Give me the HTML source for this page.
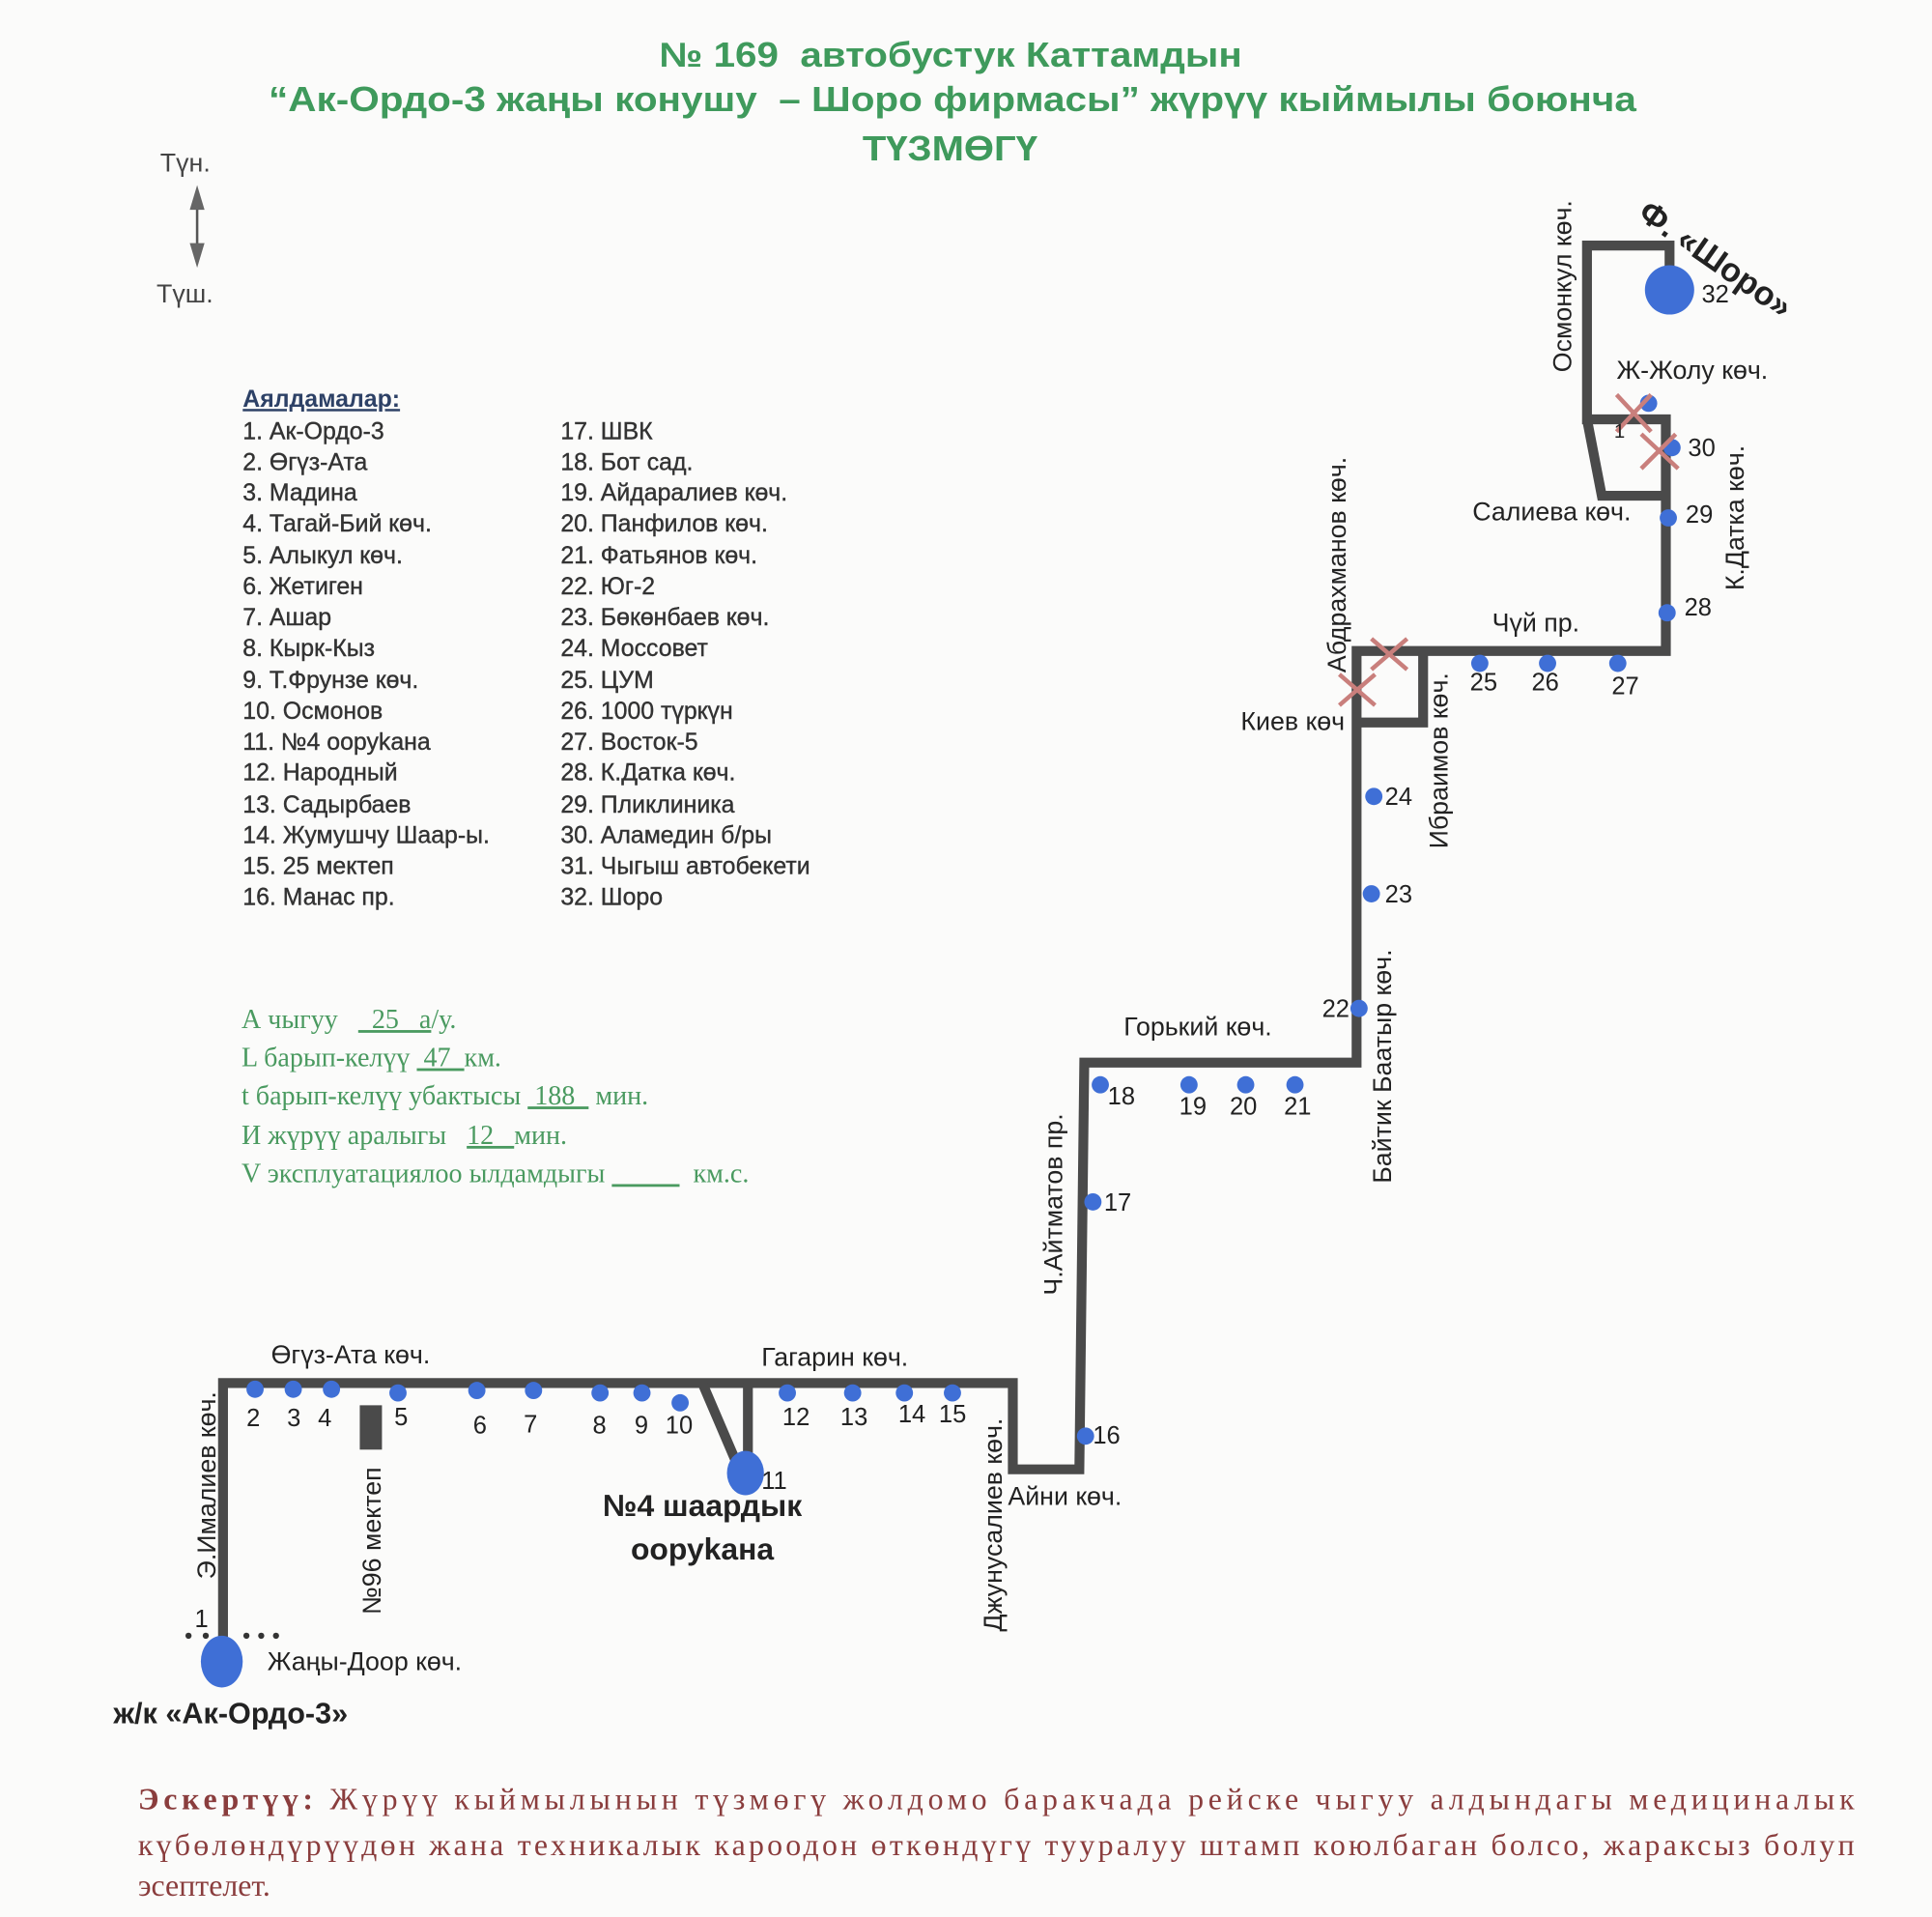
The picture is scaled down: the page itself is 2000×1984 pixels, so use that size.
<!DOCTYPE html>
<html><head><meta charset="utf-8"><style>
html,body{margin:0;padding:0;background:#fbfbfa;}
svg{display:block;}
</style></head><body>
<svg width="2000" height="1984" viewBox="0 0 1568 1555" xmlns="http://www.w3.org/2000/svg" font-family="Liberation Sans, DejaVu Sans, sans-serif">
<rect width="1568" height="1555" fill="#fbfbfa"/>
<g fill="#3f9a5c" font-weight="bold" font-size="28">
<text x="535" y="54" textLength="473" lengthAdjust="spacingAndGlyphs">№ 169&#160; автобустук Каттамдын</text>
<text x="218" y="90" textLength="1110" lengthAdjust="spacingAndGlyphs">“Ак-Ордо-3 жаңы конушу&#160; – Шоро фирмасы” жүрүү кыймылы боюнча</text>
<text x="700" y="130" textLength="142" lengthAdjust="spacingAndGlyphs">ТҮЗМӨГҮ</text>
</g>
<g fill="#444" font-size="21">
<text x="130" y="139">Түн.</text>
<text x="127" y="245">Түш.</text>
</g>
<line x1="160" y1="160" x2="160" y2="207" stroke="#555" stroke-width="2"/>
<polygon points="160,150 154,170 166,170" fill="#666"/>
<polygon points="160,217 154,197 166,197" fill="#666"/>
<g font-size="19.5" fill="#333" stroke="#333" stroke-width="0.3">
<text x="197" y="330" font-weight="bold" fill="#2d4166" stroke="none" text-decoration="underline">Аялдамалар:</text>
<text x="197" y="356">1. Ак-Ордо-3</text>
<text x="197" y="381">2. Өгүз-Ата</text>
<text x="197" y="406">3. Мадина</text>
<text x="197" y="431">4. Тагай-Бий көч.</text>
<text x="197" y="457">5. Алыкул көч.</text>
<text x="197" y="482">6. Жетиген</text>
<text x="197" y="507">7. Ашар</text>
<text x="197" y="532">8. Кырк-Кыз</text>
<text x="197" y="558">9. Т.Фрунзе көч.</text>
<text x="197" y="583">10. Осмонов</text>
<text x="197" y="608">11. №4 ооруkана</text>
<text x="197" y="633">12. Народный</text>
<text x="197" y="659">13. Садырбаев</text>
<text x="197" y="684">14. Жумушчу Шаар-ы.</text>
<text x="197" y="709">15. 25 мектеп</text>
<text x="197" y="734">16. Манас пр.</text>
<text x="455" y="356">17. ШВК</text>
<text x="455" y="381">18. Бот сад.</text>
<text x="455" y="406">19. Айдаралиев көч.</text>
<text x="455" y="431">20. Панфилов көч.</text>
<text x="455" y="457">21. Фатьянов көч.</text>
<text x="455" y="482">22. Юг-2</text>
<text x="455" y="507">23. Бөкөнбаев көч.</text>
<text x="455" y="532">24. Моссовет</text>
<text x="455" y="558">25. ЦУМ</text>
<text x="455" y="583">26. 1000 түркүн</text>
<text x="455" y="608">27. Восток-5</text>
<text x="455" y="633">28. К.Датка көч.</text>
<text x="455" y="659">29. Пликлиника</text>
<text x="455" y="684">30. Аламедин б/ры</text>
<text x="455" y="709">31. Чыгыш автобекети</text>
<text x="455" y="734">32. Шоро</text>
</g>
<g font-family="Liberation Serif, DejaVu Serif, serif" font-size="22" fill="#4a9a60">
<text x="196" y="834">А чыгуу&#160;&#160; <tspan text-decoration="underline">&#160;&#160;25&#160;&#160;&#160;а</tspan>/у.</text>
<text x="196" y="865">L барып-келүү&#160;<tspan text-decoration="underline">&#160;47&#160;&#160;</tspan>км.</text>
<text x="196" y="896">t барып-келүү убактысы&#160;<tspan text-decoration="underline">&#160;188&#160;&#160;</tspan>&#160;мин.</text>
<text x="196" y="928">И жүрүү аралыгы&#160;&#160;&#160;<tspan text-decoration="underline">12&#160;&#160;&#160;</tspan>мин.</text>
<text x="196" y="959">V эксплуатациялоо ылдамдыгы&#160;<tspan text-decoration="underline">&#160;&#160;&#160;&#160;&#160;&#160;&#160;&#160;&#160;&#160;</tspan>&#160;&#160;км.с.</text>
</g>
<g fill="none" stroke="#4a4a4a" stroke-width="8" stroke-linejoin="miter">
<path d="M181,1330 V1122 H822 V1192 H876 L880,862 H1101 V528 H1352 V340 H1288 V199 H1355 V232"/>
<path d="M1288,340 L1300,402 H1352"/>
<path d="M1101,586 H1155 V528"/>
<path d="M570,1122 L600,1192 M607,1122 V1192"/>
</g>
<rect x="292" y="1140" width="18" height="36" fill="#4a4a4a"/>
<g fill="#3f6fd6">
<ellipse cx="180" cy="1348" rx="17" ry="21"/>
<ellipse cx="605" cy="1195" rx="15" ry="18"/>
<circle cx="1355" cy="235" r="20"/>
<circle cx="207" cy="1127" r="7"/><circle cx="238" cy="1127" r="7"/><circle cx="269" cy="1127" r="7"/>
<circle cx="323" cy="1130" r="7"/><circle cx="387" cy="1128" r="7"/><circle cx="433" cy="1128" r="7"/>
<circle cx="487" cy="1130" r="7"/><circle cx="521" cy="1130" r="7"/><circle cx="552" cy="1138" r="7"/>
<circle cx="639" cy="1130" r="7"/><circle cx="692" cy="1130" r="7"/><circle cx="734" cy="1130" r="7"/><circle cx="773" cy="1130" r="7"/>
<circle cx="881" cy="1165" r="7"/><circle cx="887" cy="975" r="7"/><circle cx="893" cy="880" r="7"/>
<circle cx="965" cy="880" r="7"/><circle cx="1011" cy="880" r="7"/><circle cx="1051" cy="880" r="7"/>
<circle cx="1103" cy="818" r="7"/><circle cx="1113" cy="725" r="7"/><circle cx="1115" cy="646" r="7"/>
<circle cx="1201" cy="538" r="7"/><circle cx="1256" cy="538" r="7"/><circle cx="1313" cy="538" r="7"/>
<circle cx="1353" cy="497" r="7"/><circle cx="1354" cy="420" r="7"/><circle cx="1357" cy="363" r="7"/><circle cx="1338" cy="327" r="7"/>
</g>
<g fill="#333">
<circle cx="153" cy="1327" r="2.5"/><circle cx="167" cy="1327" r="2.5"/><circle cx="200" cy="1327" r="2.5"/><circle cx="212" cy="1327" r="2.5"/><circle cx="224" cy="1327" r="2.5"/>
</g>
<g stroke="#c97f7c" stroke-width="3.5">
<path d="M1312,320 L1340,350 M1340,320 L1312,350"/>
<path d="M1332,352 L1362,380 M1360,352 L1332,380"/>
<path d="M1113,518 L1142,543 M1142,518 L1113,543"/>
<path d="M1087,547 L1116,572 M1116,547 L1087,572"/>
</g>
<g font-size="20" fill="#222">
<text x="200" y="1157">2</text><text x="233" y="1157">3</text><text x="258" y="1157">4</text><text x="320" y="1156">5</text>
<text x="384" y="1163">6</text><text x="425" y="1162">7</text><text x="481" y="1163">8</text><text x="515" y="1163">9</text><text x="540" y="1163">10</text>
<text x="618" y="1208">11</text>
<text x="635" y="1156">12</text><text x="682" y="1156">13</text><text x="729" y="1154">14</text><text x="762" y="1154">15</text>
<text x="887" y="1171">16</text><text x="896" y="982">17</text><text x="899" y="896">18</text>
<text x="957" y="904">19</text><text x="998" y="904">20</text><text x="1042" y="904">21</text>
<text x="1073" y="825">22</text><text x="1124" y="732">23</text><text x="1124" y="653">24</text>
<text x="1193" y="560">25</text><text x="1243" y="560">26</text><text x="1308" y="563">27</text>
<text x="1367" y="499">28</text><text x="1368" y="424">29</text><text x="1370" y="370">30</text><text x="1381" y="245">32</text>
<text x="158" y="1320">1</text><text x="1310" y="355" font-size="16">1</text>
</g>
<g font-size="21" fill="#222">
<text x="220" y="1106">Өгүз-Ата көч.</text>
<text x="618" y="1108">Гагарин көч.</text>
<text x="818" y="1221">Айни көч.</text>
<text x="217" y="1355">Жаңы-Доор көч.</text>
<text x="912" y="840">Горький көч.</text>
<text x="1007" y="592">Киев көч</text>
<text x="1211" y="512">Чүй пр.</text>
<text x="1195" y="422">Салиева көч.</text>
<text x="1312" y="307">Ж-Жолу көч.</text>
<text transform="translate(175,1205) rotate(-90)" text-anchor="middle">Э.Ималиев көч.</text>
<text transform="translate(309,1250) rotate(-90)" text-anchor="middle">№96 мектеп</text>
<text transform="translate(813,1237) rotate(-90)" text-anchor="middle">Джунусалиев көч.</text>
<text transform="translate(862,977) rotate(-90)" text-anchor="middle">Ч.Айтматов пр.</text>
<text transform="translate(1129,865) rotate(-90)" text-anchor="middle">Байтик Баатыр көч.</text>
<text transform="translate(1092,458) rotate(-90)" text-anchor="middle">Абдрахманов көч.</text>
<text transform="translate(1175,617) rotate(-90)" text-anchor="middle">Ибраимов көч.</text>
<text transform="translate(1275,232) rotate(-90)" text-anchor="middle">Осмонкул көч.</text>
<text transform="translate(1415,420) rotate(-90)" text-anchor="middle">К.Датка көч.</text>
</g>
<g font-weight="bold" fill="#222">
<text x="570" y="1230" font-size="25" text-anchor="middle">№4 шаардык</text>
<text x="570" y="1265" font-size="25" text-anchor="middle">ооруkана</text>
<text x="92" y="1398" font-size="24">ж/к «Ак-Ордо-3»</text>
<text transform="translate(1328,176) rotate(35)" font-size="27">Ф. «Шоро»</text>
</g>
<g font-family="Liberation Serif, DejaVu Serif, serif" font-size="25" fill="#8a3d3d">
<text x="112" y="1468" textLength="1393" lengthAdjust="spacing"><tspan font-weight="bold">Эскертүү:</tspan> Жүрүү кыймылынын түзмөгү жолдомо баракчада рейске чыгуу алдындагы медициналык</text>
<text x="112" y="1505" textLength="1393" lengthAdjust="spacing">күбөлөндүрүүдөн жана техникалык кароодон өткөндүгү тууралуу штамп коюлбаган болсо, жараксыз болуп</text>
<text x="112" y="1538">эсептелет.</text>
</g>
</svg>
</body></html>
